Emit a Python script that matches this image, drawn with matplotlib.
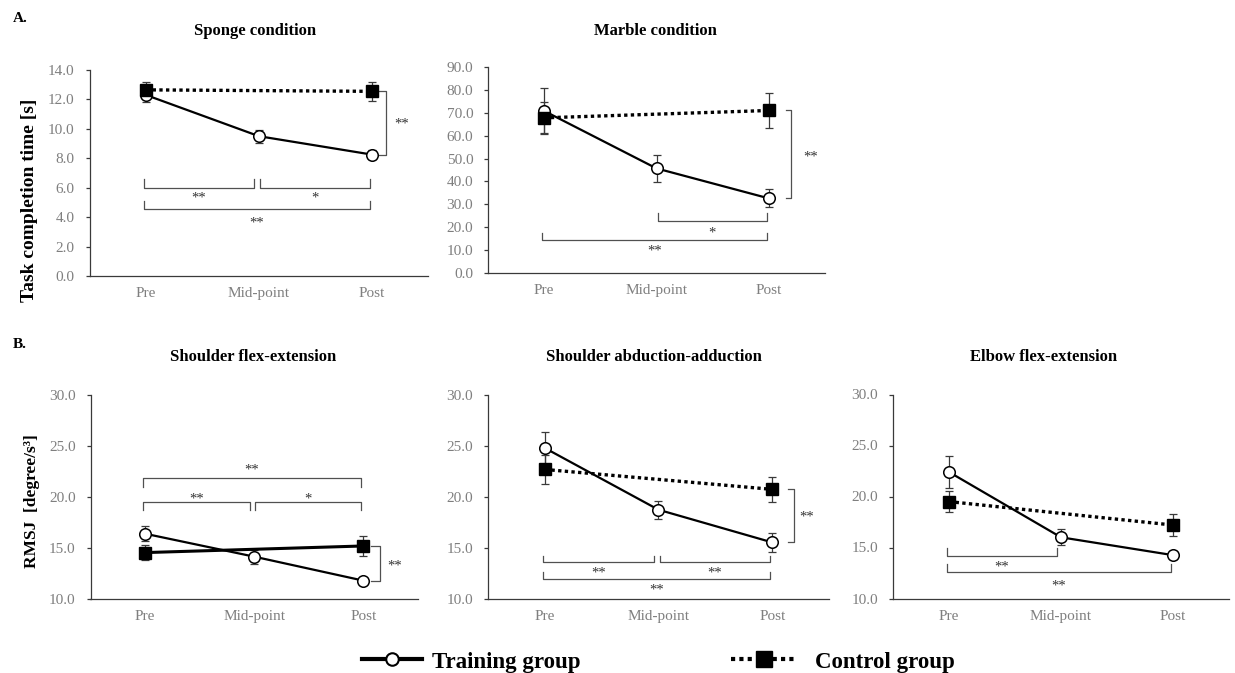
import numpy as np
import matplotlib
matplotlib.use("Agg")
import matplotlib.pyplot as plt
from matplotlib.lines import Line2D

plt.rcParams['font.family'] = ['Liberation Serif', 'DejaVu Serif']

# ---------------- data ----------------
categories = ["Pre", "Mid-point", "Post"]

sponge_train = [12.3, 9.5, 8.25]
sponge_train_err = [0.45, 0.45, 0.3]
sponge_ctrl = [12.65, 12.55]          # Pre, Post
sponge_ctrl_err = [0.55, 0.65]

marble_train = [70.8, 45.7, 32.6]
marble_train_err = [10.0, 5.8, 3.9]
marble_ctrl = [67.8, 71.0]
marble_ctrl_err = [6.8, 7.8]

sfe_train = [16.4, 14.15, 11.8]
sfe_train_err = [0.75, 0.7, 0.2]
sfe_ctrl = [14.55, 15.2]
sfe_ctrl_err = [0.7, 1.0]

saa_train = [24.8, 18.75, 15.55]
saa_train_err = [1.6, 0.9, 0.95]
saa_ctrl = [22.7, 20.75]
saa_ctrl_err = [1.45, 1.2]

elb_train = [22.4, 16.0, 14.25]
elb_train_err = [1.55, 0.8, 0.4]
elb_ctrl = [19.5, 17.2]
elb_ctrl_err = [1.05, 1.1]

# significance brackets: (from idx, to idx, y, label, label y)
sponge_sig = [(0, 1, 6.0, "**", 5.45), (1, 2, 6.0, "*", 5.45), (0, 2, 4.53, "**", 3.76)]
marble_sig = [(1, 2, 22.9, "*", 18.3), (0, 2, 14.4, "**", 10.3)]
sfe_sig = [(0, 2, 21.83, "**", 22.8), (0, 1, 19.55, "**", 20.0), (1, 2, 19.55, "*", 20.0)]
saa_sig = [(0, 1, 13.6, "**", 12.7), (1, 2, 13.6, "**", 12.7), (0, 2, 11.96, "**", 11.1)]
elb_sig = [(0, 1, 14.18, "**", 13.27), (0, 2, 12.55, "**", 11.47)]

# group difference at Post: label y
sponge_post_sig = ("**", 10.5)
marble_post_sig = ("**", 51.5)
sfe_post_sig = ("**", 13.4)
saa_post_sig = ("**", 18.2)

W, H = 1235, 673
fig = plt.figure(figsize=(W / 100, H / 100), dpi=100)

TICK_GREY = '#7f7f7f'
AX_COL = '#3a3a3a'
BR_COL = '#505050'


def rect(l, t, r, b):
    return [l / W, 1 - b / H, (r - l) / W, (b - t) / H]


def panel(box, title, title_xy, train, train_err, ctrl, ctrl_err, ylim, ystep,
          sig, sig_dir, tick_h, post_sig=None, post_geom=None, ctrl_ls='dotted'):
    ax = fig.add_axes(rect(*box))
    x = np.arange(len(categories))
    xc = np.array([0, len(categories) - 1])

    ax.errorbar(x, train, yerr=train_err, fmt='none', ecolor=AX_COL, elinewidth=0.9,
                capsize=3, capthick=0.9, zorder=2)
    ax.errorbar(xc, ctrl, yerr=ctrl_err, fmt='none', ecolor=AX_COL, elinewidth=0.9,
                capsize=3, capthick=0.9, zorder=2)
    ax.plot(x, train, color='black', lw=1.6, zorder=3, marker='o', ms=8.3,
            mfc='white', mec='black', mew=1.1)
    if ctrl_ls == 'dotted':
        ax.plot(xc, ctrl, color='black', lw=2.4, ls=(0, (1, 1)), dash_capstyle='butt',
                zorder=4, marker='s', ms=8, mfc='black', mec='black')
    else:
        ax.plot(xc, ctrl, color='black', lw=2.2, ls='-', zorder=4, marker='s', ms=8,
                mfc='black', mec='black')

    ax.set_xlim(-0.5, 2.5)
    ax.set_ylim(*ylim)
    ax.set_yticks(np.arange(ylim[0], ylim[1] + 1e-9, ystep))
    ax.yaxis.set_major_formatter(matplotlib.ticker.FormatStrFormatter('%.1f'))
    ax.set_xticks(x)
    ax.set_xticklabels(categories)
    ax.tick_params(axis='x', length=0, pad=8, labelsize=11, labelcolor=TICK_GREY)
    ax.tick_params(axis='y', length=2.6, width=0.9, color=AX_COL, pad=8,
                   labelsize=11, labelcolor=TICK_GREY)
    for s in ['top', 'right']:
        ax.spines[s].set_visible(False)
    for s in ['left', 'bottom']:
        ax.spines[s].set_color(AX_COL)
        ax.spines[s].set_linewidth(0.9)
    ax.patch.set_alpha(0)

    # within-group significance brackets
    for (i1, i2, y, lab, ty) in sig:
        x1 = i1 - 0.02 + (0.03 if i1 == 1 else 0)
        x2 = i2 - 0.02 - (0.02 if i2 == 1 else 0)
        yt = y + tick_h if sig_dir == 'up' else y - tick_h
        ax.plot([x1, x1, x2, x2], [yt, y, y, yt], color=BR_COL, lw=0.9, zorder=1,
                clip_on=False)
        ax.annotate(lab, ((x1 + x2) / 2, ty), xytext=(0, -1.5), textcoords='offset points',
                    ha='center', va='center', fontsize=10.5, color='#333333')

    # between-group bracket at Post
    if post_sig is not None:
        xv, xt, xl = post_geom
        top, bot = ctrl[-1], train[-1]
        p = len(categories) - 1
        ax.plot([p + xt, p + xv, p + xv, p + xt], [top, top, bot, bot],
                color=BR_COL, lw=0.9, clip_on=False, zorder=1)
        ax.annotate(post_sig[0], (p + xl, post_sig[1]), xytext=(0, -1.5),
                    textcoords='offset points', ha='center', va='center',
                    fontsize=10.5, color='#333333', annotation_clip=False)

    fig.text(title_xy[0] / W, 1 - title_xy[1] / H, title, ha='center', va='center',
             fontsize=12, fontweight='bold')
    return ax


panel((89.5, 70, 428.5, 276), "Sponge condition", (255, 31),
      sponge_train, sponge_train_err, sponge_ctrl, sponge_ctrl_err, (0, 14), 2.0,
      sponge_sig, 'up', 0.58, sponge_post_sig, (0.12, 0.05, 0.26))
panel((488, 67, 825, 273), "Marble condition", (655, 31),
      marble_train, marble_train_err, marble_ctrl, marble_ctrl_err, (0, 90), 10.0,
      marble_sig, 'up', 3.1, marble_post_sig, (0.2, 0.15, 0.37))
panel((90.5, 395, 418, 599), "Shoulder flex-extension", (253, 357),
      sfe_train, sfe_train_err, sfe_ctrl, sfe_ctrl_err, (10, 30), 5.0,
      sfe_sig, 'down', 0.83, sfe_post_sig, (0.15, 0.07, 0.29), ctrl_ls='solid')
panel((488, 395, 829, 599), "Shoulder abduction-adduction", (654, 357),
      saa_train, saa_train_err, saa_ctrl, saa_ctrl_err, (10, 30), 5.0,
      saa_sig, 'up', 0.65, saa_post_sig, (0.19, 0.14, 0.30))
panel((893, 394.5, 1229, 598.5), "Elbow flex-extension", (1044, 357),
      elb_train, elb_train_err, elb_ctrl, elb_ctrl_err, (10, 30), 5.0,
      elb_sig, 'up', 0.8)

# panel letters and y labels
fig.text(20 / W, 1 - 18 / H, "A.", ha='center', va='center', fontsize=11, fontweight='bold')
fig.text(20 / W, 1 - 345 / H, "B.", ha='center', va='center', fontsize=11, fontweight='bold')
fig.text(30 / W, 1 - 200 / H, "Task completion time [s]", rotation=90, ha='center',
         va='center', fontsize=14, fontweight='bold')
fig.text(32 / W, 1 - 501 / H, "RMSJ  [degree/s³]", rotation=90, ha='center',
         va='center', fontsize=12.5, fontweight='bold')

# legend
fs = 16.5
em = fs * 100 / 72
h_train = Line2D([], [], color='black', lw=3, marker='o', ms=9, mfc='white', mec='black', mew=1.5)
h_ctrl = Line2D([], [], color='black', lw=3, ls=(0, (1, 1)), dash_capstyle='butt',
                marker='s', ms=11, mfc='black', mec='black')
fig.legend([h_train], ["Training group"], loc='center left',
           bbox_to_anchor=(362 / W, 1 - 662 / H), frameon=False, handlelength=60 / em,
           handletextpad=10 / em, borderpad=0, borderaxespad=0, numpoints=1,
           prop=dict(weight='bold', size=fs))
fig.legend([h_ctrl], ["Control group"], loc='center left',
           bbox_to_anchor=(731 / W, 1 - 662 / H), frameon=False, handlelength=66 / em,
           handletextpad=18 / em, borderpad=0, borderaxespad=0, numpoints=1,
           prop=dict(weight='bold', size=fs))

fig.savefig("out.png", dpi=100)
